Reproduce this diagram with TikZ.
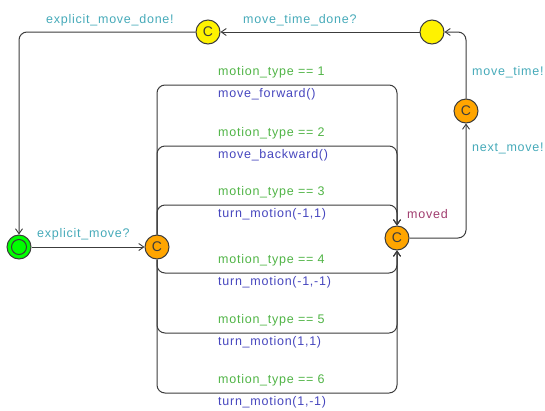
\documentclass[tikz,border=0pt]{standalone}
\usepackage{fontspec}
\usetikzlibrary{arrows.meta}
\newfontfamily\labfont{Liberation Sans}[LetterSpace=6]
\newfontfamily\cfont{Liberation Sans}
\definecolor{synccol}{RGB}{70,170,185}
\definecolor{guardcol}{RGB}{80,180,70}
\definecolor{updcol}{RGB}{70,70,190}
\definecolor{namecol}{RGB}{160,60,110}
\definecolor{linecol}{RGB}{60,60,60}
\definecolor{comorange}{RGB}{255,165,0}
\begin{document}
\begin{tikzpicture}[x=1pt,y=-1pt,
  loc/.style={circle,draw=linecol,line width=1pt,minimum size=24pt,inner sep=0pt,
    font=\cfont\fontsize{14}{14}\selectfont,text=linecol},
  commit/.style={loc,fill=comorange},
  yel/.style={loc,fill=yellow},
  edge/.style={draw=linecol,line width=1pt,rounded corners=8pt,
    -{Straight Barb[length=5pt,width=7pt,line width=0.9pt]}},
  lab/.style={anchor=base west,inner sep=0pt,font=\labfont\fontsize{12.5}{14}\selectfont},
  sync/.style={lab,text=synccol},
  guard/.style={lab,text=guardcol},
  upd/.style={lab,text=updcol},
  nm/.style={lab,text=namecol}]
\useasboundingbox (0,0) rectangle (545,410);
% locations
\node[loc,fill=green] (init) at (19,247) {};
\node[circle,draw=linecol,line width=1pt,minimum size=15pt,inner sep=0pt] (initin) at (19,247) {};
\node[commit] (A) at (157,247) {C};
\node[commit] (B) at (397,238) {C};
\node[commit] (D) at (466,111) {C};
\node[yel] (E) at (432,32) {};
\node[yel] (F) at (208,32) {C};
% loop coordinates
\coordinate (c1) at (280,85);
\coordinate (c2) at (280,146);
\coordinate (c3) at (280,205);
\coordinate (c4) at (280,273);
\coordinate (c5) at (280,333);
\coordinate (c6) at (280,393);
% edges
\draw[edge] (init) -- (A);
\draw[edge] (B) -| (D);
\draw[edge] (D) |- (E);
\draw[edge] (E) -- (F);
\draw[edge] (F) -| (init);
\foreach \c in {c1,c2,c3,c4,c5,c6}{
  \draw[edge] (A) |- (\c) -| (B);
}
% labels
\node[sync] (l1) at (46,23) {explicit\_move\_done!};
\node[sync] (l2) at (243,23) {move\_time\_done?};
\node[sync] (l3) at (472,75) {move\_time!};
\node[sync] (l4) at (472,151) {next\_move!};
\node[sync] (l5) at (37,237) {explicit\_move?};
\node[nm] (l6) at (407,218) {moved};
\node[guard] (g1) at (218,75) {motion\_type == 1};
\node[upd] (u1) at (218,97) {move\_forward()};
\node[guard] (g2) at (218,136) {motion\_type == 2};
\node[upd] (u2) at (218,158) {move\_backward()};
\node[guard] (g3) at (218,195) {motion\_type == 3};
\node[upd] (u3) at (218,217) {turn\_motion(-1,1)};
\node[guard] (g4) at (218,263) {motion\_type == 4};
\node[upd] (u4) at (218,285) {turn\_motion(-1,-1)};
\node[guard] (g5) at (218,323) {motion\_type == 5};
\node[upd] (u5) at (218,345) {turn\_motion(1,1)};
\node[guard] (g6) at (218,383) {motion\_type == 6};
\node[upd] (u6) at (218,405) {turn\_motion(1,-1)};
\end{tikzpicture}
\end{document}
